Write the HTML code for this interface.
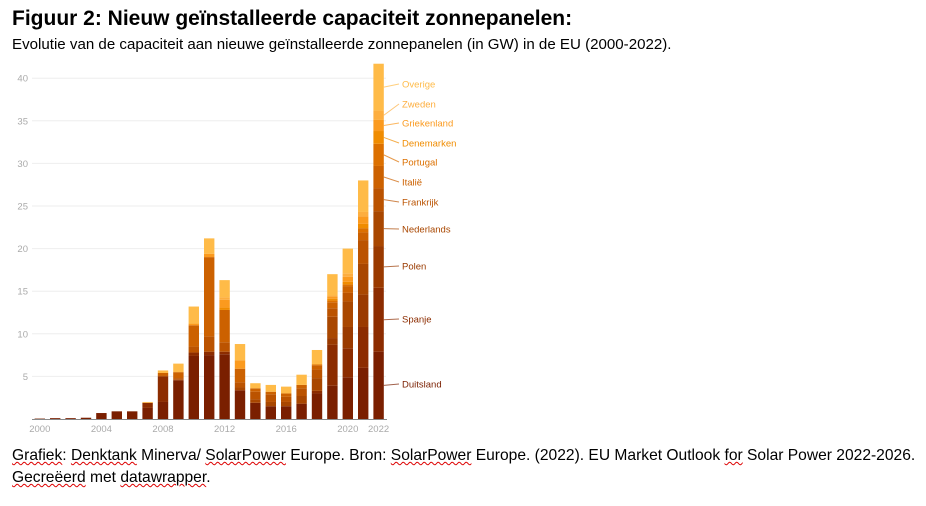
<!DOCTYPE html>
<html><head><meta charset="utf-8">
<style>
body{margin:0;width:926px;height:506px;background:#fff;font-family:"Liberation Sans",sans-serif;overflow:hidden;position:relative}
.t{position:absolute;left:12px;top:7px;font-size:21px;font-weight:bold;color:#000;white-space:nowrap}
.s{position:absolute;left:12px;top:36px;font-size:15.1px;color:#000;white-space:nowrap}
.f{position:absolute;left:12px;top:445px;font-size:15.6px;color:#000;line-height:22px;white-space:nowrap}
.u{text-decoration:underline wavy #d00;text-decoration-thickness:1px}
svg{position:absolute;left:0;top:0}
</style></head><body>
<div class="t">Figuur 2: Nieuw geïnstalleerde capaciteit zonnepanelen:</div>
<div class="s">Evolutie van de capaciteit aan nieuwe geïnstalleerde zonnepanelen (in GW) in de EU (2000-2022).</div>
<svg id="c" width="926" height="506"></svg>
<div class="f"><span class="u">Grafiek</span>: <span class="u">Denktank</span> Minerva/ <span class="u">SolarPower</span> Europe. Bron: <span class="u">SolarPower</span> Europe. (2022). EU Market Outlook <span class="u">for</span> Solar Power 2022-2026.<br><span class="u">Gecreëerd</span> met <span class="u">datawrapper</span>.</div>
<script>
const years=[2000,2001,2002,2003,2004,2005,2006,2007,2008,2009,2010,2011,2012,2013,2014,2015,2016,2017,2018,2019,2020,2021,2022];
const series=["Duitsland","Spanje","Polen","Nederlands","Frankrijk","Italië","Portugal","Denemarken","Griekenland","Zweden","Overige"];
const colors=["#7a1f00","#8c2c00","#9a3a00","#a94700","#bb5300","#cc6100","#dc7000","#f08c00","#fb9a1e","#fdae3f","#ffbb48"];
const duitsland=[0.05,0.1,0.1,0.15,0.7,0.9,0.9,1.3,2.0,4.5,7.4,7.5,7.6,3.3,1.9,1.5,1.5,1.8,3.0,3.9,4.9,6.0,7.9];
const spanje=[0,0,0,0,0,0,0,0.6,3.0,0.1,0.4,0.4,0.3,0.1,0,0,0,0,0.3,4.8,3.4,4.8,7.5];
const polen=[0,0,0,0,0,0,0,0,0,0,0,0,0,0,0,0,0,0,0,0.8,2.5,3.8,4.9];
const nederlands=[0,0,0,0,0,0,0,0,0,0,0,0,0,0.3,0.4,0.5,0.5,0.9,1.5,2.5,3.0,3.6,4.1];
const frankrijk=[0,0,0,0,0,0,0,0,0.1,0.2,0.7,1.8,1.1,0.6,0.9,0.9,0.6,0.9,1.0,1.0,1.0,2.8,2.7];
const italie=[0,0,0,0,0,0,0,0,0.3,0.7,2.5,9.3,3.8,1.6,0.4,0.3,0.4,0.4,0.5,0.7,0.8,0.9,2.6];
const portugal=[0,0,0,0,0,0,0,0,0,0,0,0,0,0,0,0,0,0,0.1,0.2,0.2,0.5,2.6];
const denemarken=[0,0,0,0,0,0,0,0,0,0,0,0,0.3,0,0,0,0,0,0,0.2,0.3,0.5,1.5];
const griekenland=[0,0,0,0,0,0,0,0,0,0,0.2,0.4,0.9,1.0,0,0,0,0,0,0.3,0.6,0.9,1.3];
const zweden=[0,0,0,0,0,0,0,0,0,0,0,0,0.3,0,0,0,0,0,0,0.1,0.4,0.5,1.1];
const overige=[0,0,0,0,0,0,0,0.1,0.3,1.0,2.0,1.8,2.0,1.9,0.6,0.8,0.8,1.2,1.7,2.5,2.9,3.7,5.5];
const yTicks=[5,10,15,20,25,30,35,40];
const xTickYears=[2000,2004,2008,2012,2016,2020,2022];
const data=[duitsland,spanje,polen,nederlands,frankrijk,italie,portugal,denemarken,griekenland,zweden,overige];
const NS="http://www.w3.org/2000/svg",svg=document.getElementById('c');
const y=v=>419-v*8.52;
const x=i=>34.6+i*15.4;
const BW=10.4;
function mk(t,a,p){const e=document.createElementNS(NS,t);for(const k in a)e.setAttribute(k,a[k]);(p||svg).appendChild(e);return e;}
yTicks.forEach(v=>{
const g=mk('line',{x1:32,x2:386,y1:y(v),y2:y(v),stroke:'#eeeeee','stroke-width':1});


const t=mk('text',{x:28,y:y(v)+3.5,'text-anchor':'end','font-size':9.5,fill:'#aaa','font-family':'Liberation Sans'});
t.textContent=v;


});
years.forEach((yr,i)=>{
let cum=0;
data.forEach((s,k)=>{
const v=s[i];if(v<=0)return;
const r=mk('rect',{x:x(i),y:y(cum+v),width:BW,height:v*8.52,fill:colors[k]});


cum+=v;
});
});
const ax=mk('line',{x1:32,x2:387,y1:419.5,y2:419.5,stroke:'#888','stroke-width':1});


xTickYears.forEach(yr=>{
const i=years.indexOf(yr);
const t=mk('text',{x:x(i)+BW/2,y:432,'text-anchor':'middle','font-size':9.5,fill:'#aaa','font-family':'Liberation Sans'});
t.textContent=yr;


});
const labelY=[384,319,266,229,202,182,162,143,123,104,84];
let cum=0;const last=years.length-1;
data.forEach((s,k)=>{
const mid=cum+s[last]/2;cum+=s[last];
const l=mk('line',{x1:x(last)+BW,y1:y(mid),x2:399,y2:labelY[k],stroke:colors[k],'stroke-width':1,opacity:0.7});


const t=mk('text',{x:402,y:labelY[k]+3.5,'font-size':9.5,fill:colors[k],'font-family':'Liberation Sans'});
t.textContent=series[k];


});
</script>
</body></html>
